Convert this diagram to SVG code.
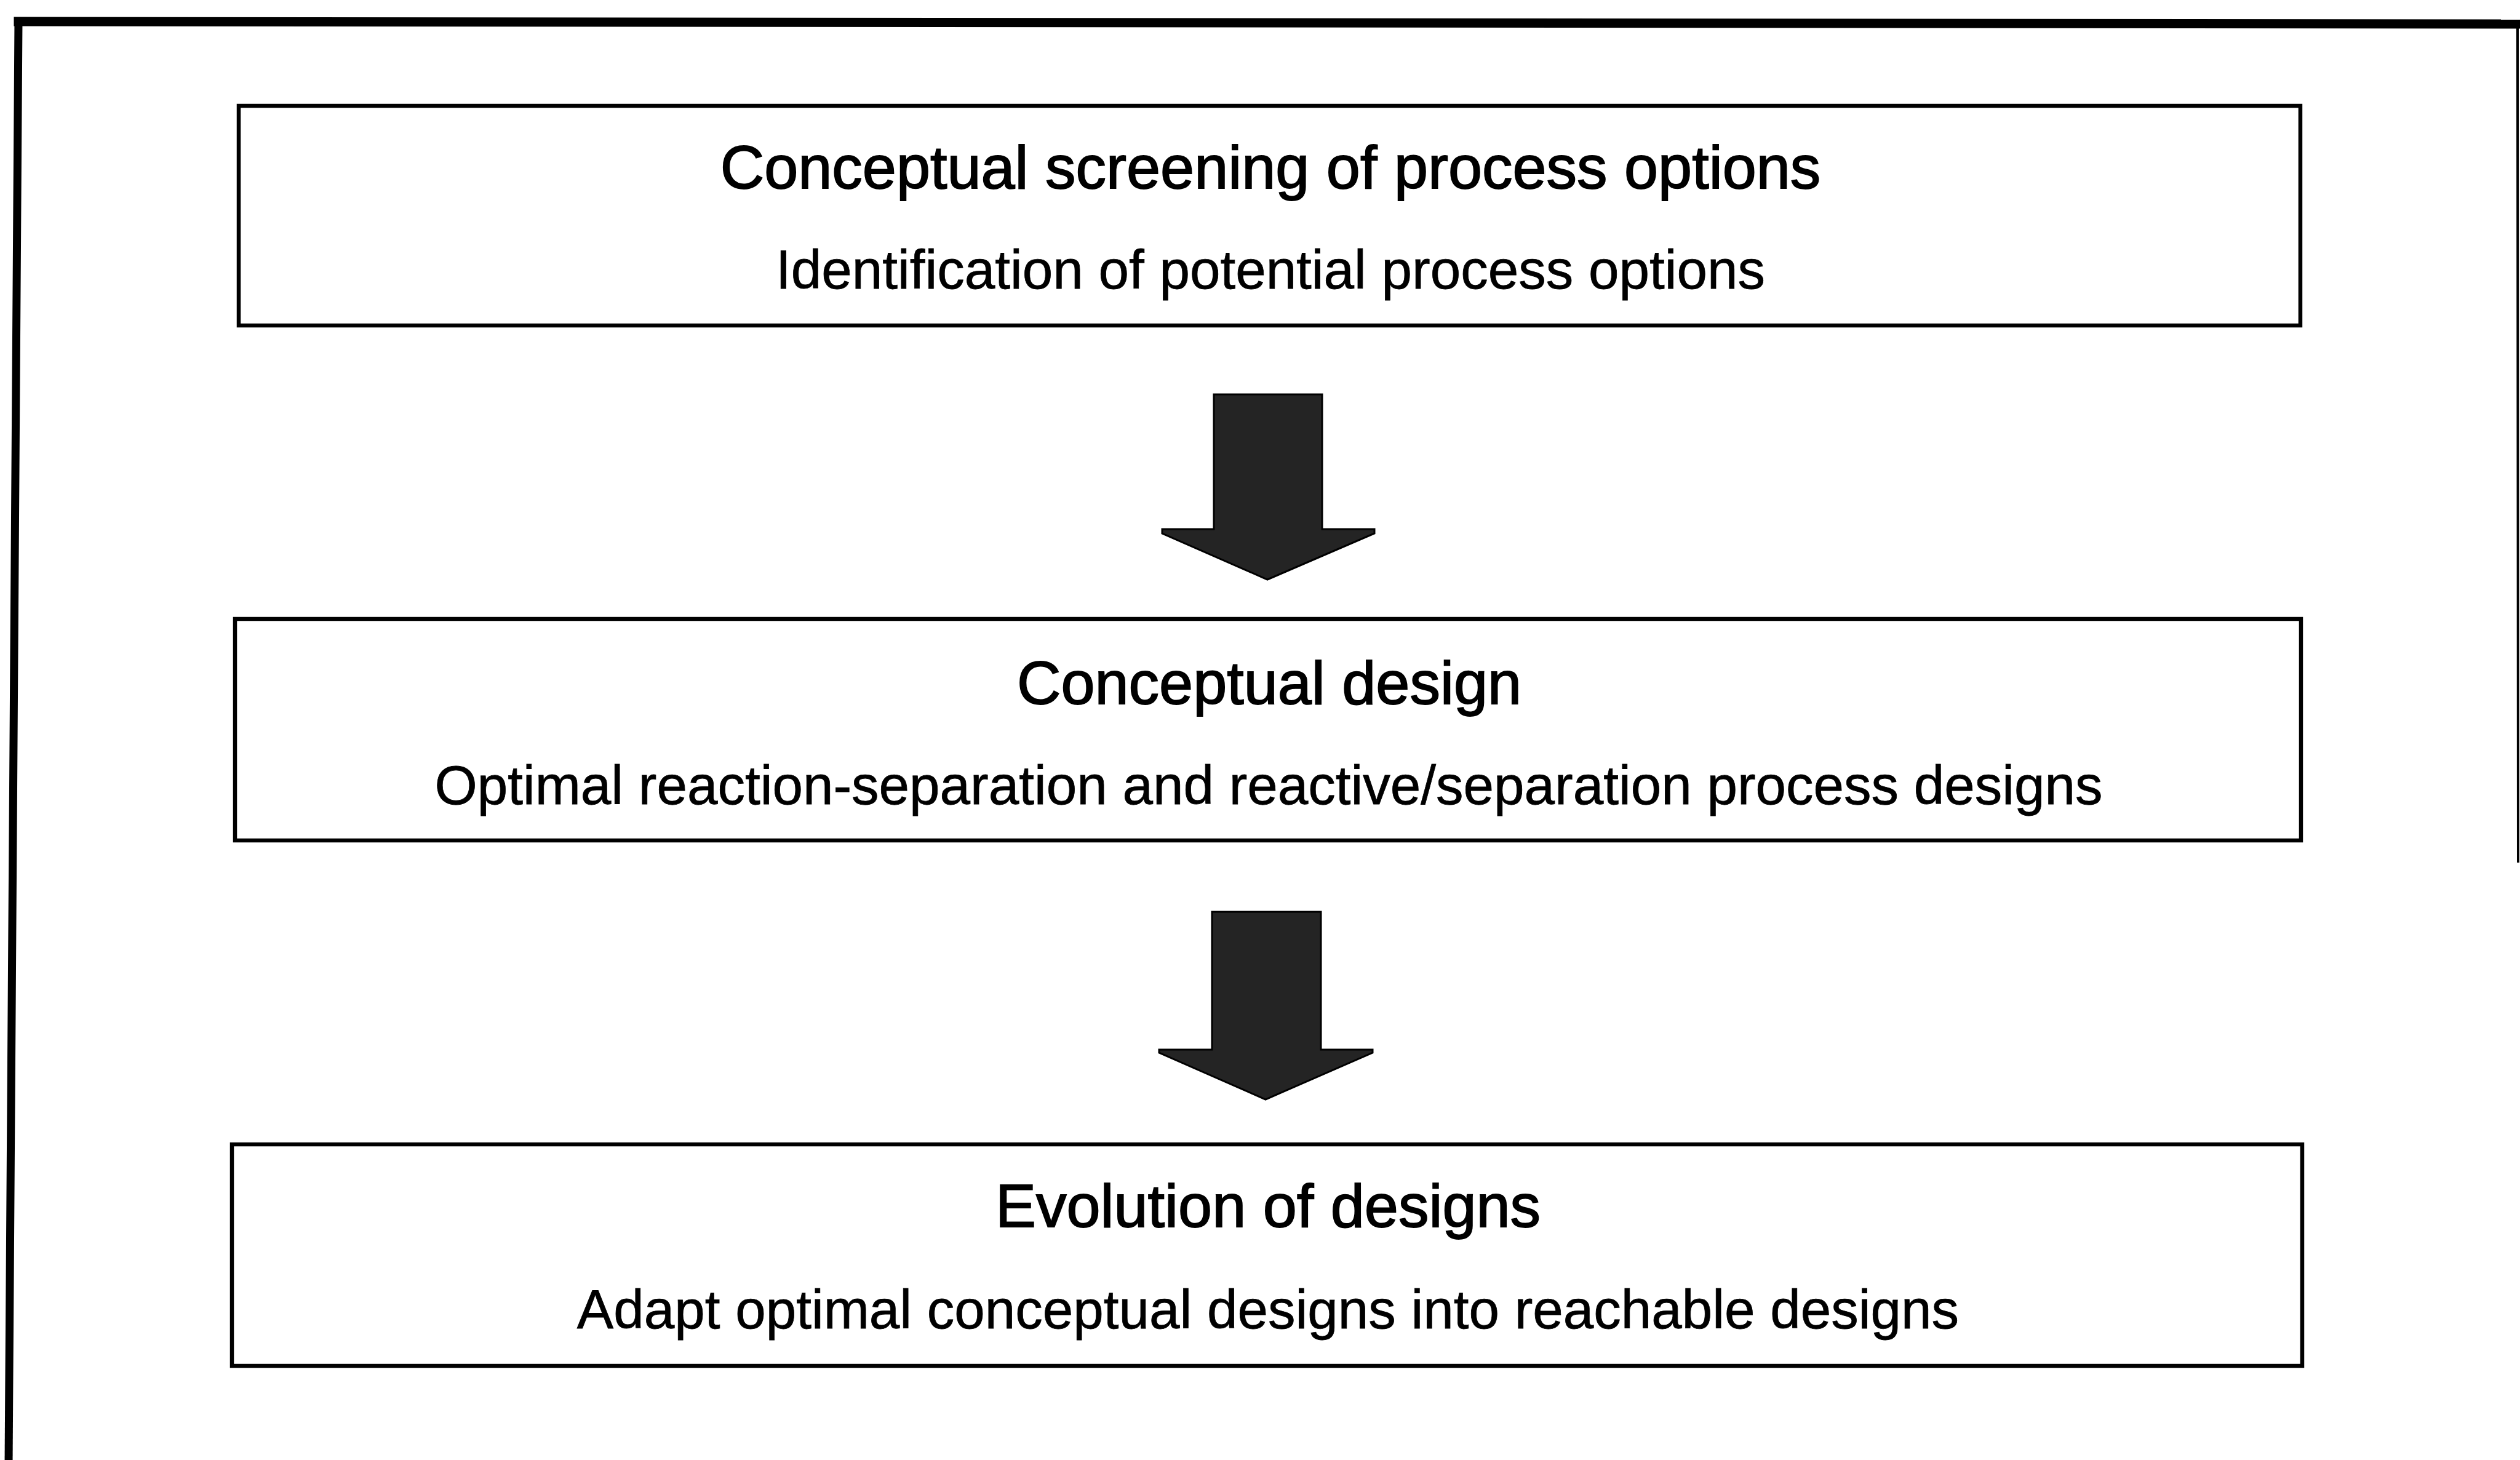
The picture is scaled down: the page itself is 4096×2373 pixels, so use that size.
<svg xmlns="http://www.w3.org/2000/svg" width="4096" height="2373" viewBox="0 0 4096 2373">
  <style>
    .box { fill: #ffffff; stroke: #000000; stroke-width: 6.5; }
    .title { font-family: "Liberation Sans", Arial, sans-serif; font-size: 99px; fill: #000000; stroke: #000000; stroke-width: 1.8; text-anchor: middle; }
    .sub { font-family: "Liberation Sans", Arial, sans-serif; font-size: 89px; fill: #000000; stroke: #000000; stroke-width: 0.8; text-anchor: middle; }
    .arrow { fill: #242424; stroke: #000000; stroke-width: 3; stroke-linejoin: miter; }
    .frame { stroke: #000000; fill: none; stroke-linecap: square; }
  </style>
  <rect x="0" y="0" width="4096" height="2373" fill="#ffffff"/>

  <g id="frame">
    <line class="frame" x1="30" y1="35" x2="4096" y2="39" stroke-width="15"/>
    <line class="frame" x1="30" y1="35" x2="14" y2="2380" stroke-width="13"/>
    <line class="frame" x1="4092" y1="38" x2="4093" y2="1400" stroke-width="4"/>
  </g>

  <g id="connectors">
    <polygon id="arrow1" class="arrow" points="1973,641 2149,641 2149,860 2234,860 2234,867 2060,942 1889,867 1889,860 1973,860"/>
    <polygon id="arrow2" class="arrow" points="1970,1482 2147,1482 2147,1706 2231,1706 2231,1711 2057,1787 1884,1711 1884,1706 1970,1706"/>
  </g>

  <g id="node-screening">
    <rect class="box" x="388" y="172" width="3351" height="357"/>
    <text class="title" x="2065" y="306">Conceptual screening of process options</text>
    <text class="sub" x="2065" y="469">Identification of potential process options</text>
  </g>

  <g id="node-conceptual-design">
    <rect class="box" x="382" y="1006" width="3358" height="360"/>
    <text class="title" x="2063" y="1144">Conceptual design</text>
    <text class="sub" x="2062" y="1307">Optimal reaction-separation and reactive/separation process designs</text>
  </g>

  <g id="node-evolution">
    <rect class="box" x="377" y="1860" width="3365" height="360"/>
    <text class="title" x="2061" y="1994">Evolution of designs</text>
    <text class="sub" x="2061" y="2159">Adapt optimal conceptual designs into reachable designs</text>
  </g>
</svg>
